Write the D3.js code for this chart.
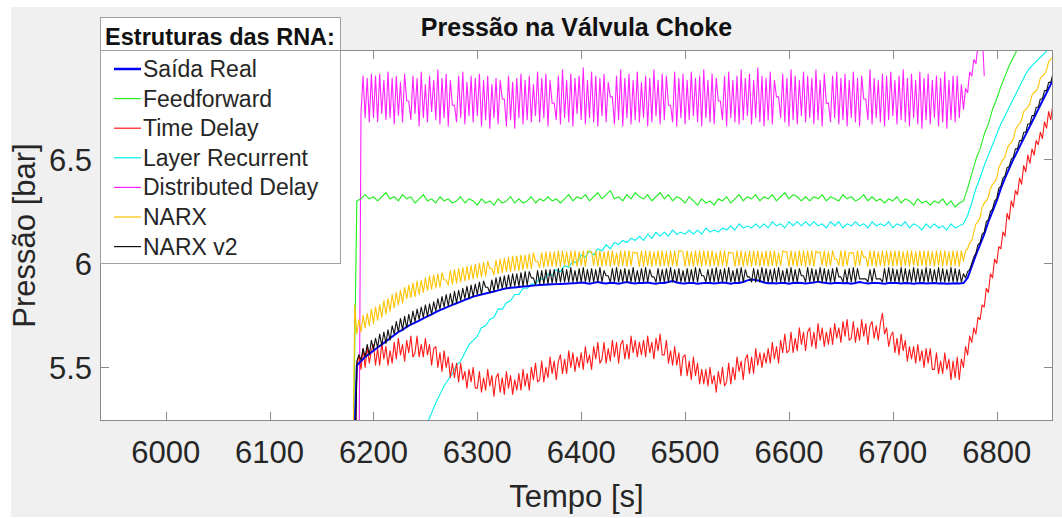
<!DOCTYPE html>
<html><head><meta charset="utf-8">
<script src="https://cdn.jsdelivr.net/npm/d3@7"></script>
<style>
body{margin:0;background:#fff}
svg{display:block}
text{font-family:"Liberation Sans",Arial,Helvetica,sans-serif}
</style>
</head><body>
<svg id="chart" width="1062" height="518"></svg>
<script>
// ---- data ----
const tStart = 6180;                       // first sample time [s]
const xLimits = [5936.75, 6854.2];
const yLimits = [5.242, 7.0255];
const xTicks = [6000, 6100, 6200, 6300, 6400, 6500, 6600, 6700, 6800];
const yTicks = [5.5, 6, 6.5];
const titleText = "Pressão na Válvula Choke";
const xLabel = "Tempo [s]";
const yLabel = "Pressão [bar]";
const legendTitle = "Estruturas das RNA:";
const seriesNames = ["Saída Real","Feedforward","Time Delay","Layer Recurrent","Distributed Delay","NARX","NARX v2"];
const seriesSteps = [4, 4, 2, 4, 2, 2, 2];   // sampling interval of each series [s]

// step 4 s
const saidaReal = [
4.90,5.51,5.53,5.55,5.565,5.58,5.595,5.61,5.625,5.64,
5.655,5.67,5.68,5.695,5.705,5.715,5.725,5.735,5.745,5.755,
5.765,5.775,5.783,5.792,5.80,5.808,5.816,5.824,5.832,5.84,
5.845,5.85,5.855,5.86,5.865,5.87,5.875,5.88,5.882,5.884,
5.886,5.888,5.89,5.892,5.894,5.896,5.897,5.898,5.899,5.90,
5.901,5.902,5.903,5.904,5.905,5.908,5.905,5.902,5.906,5.91,
5.905,5.903,5.907,5.905,5.902,5.906,5.91,5.905,5.903,5.906,
5.905,5.908,5.904,5.902,5.906,5.905,5.91,5.915,5.908,5.904,
5.903,5.906,5.905,5.902,5.904,5.906,5.905,5.903,5.905,5.908,
5.905,5.902,5.906,5.905,5.91,5.918,5.922,5.92,5.915,5.908,
5.904,5.905,5.903,5.906,5.905,5.902,5.905,5.907,5.905,5.903,
5.905,5.908,5.912,5.908,5.905,5.903,5.905,5.906,5.904,5.905,
5.902,5.905,5.91,5.906,5.903,5.905,5.906,5.904,5.902,5.905,
5.906,5.905,5.903,5.905,5.904,5.902,5.904,5.905,5.903,5.904,
5.905,5.903,5.904,5.902,5.903,5.904,5.903,5.905,5.93,5.985,
6.04,6.09,6.14,6.20,6.25,6.30,6.36,6.41,6.455,6.50,
6.54,6.58,6.62,6.66,6.70,6.74,6.78,6.82,6.86,6.90];

// step 4 s
const feedforward = [
4.90,6.30,6.31,6.33,6.31,6.32,6.30,6.32,6.34,6.31,
6.32,6.30,6.33,6.31,6.32,6.29,6.31,6.33,6.30,6.31,
6.29,6.32,6.30,6.31,6.29,6.30,6.32,6.29,6.31,6.30,
6.28,6.31,6.29,6.30,6.28,6.31,6.29,6.30,6.32,6.29,
6.31,6.29,6.30,6.32,6.29,6.31,6.30,6.32,6.30,6.31,
6.29,6.31,6.33,6.30,6.32,6.31,6.33,6.30,6.32,6.34,
6.31,6.33,6.35,6.31,6.32,6.30,6.33,6.31,6.34,6.32,
6.31,6.33,6.30,6.32,6.34,6.31,6.33,6.30,6.32,6.31,
6.29,6.32,6.30,6.28,6.31,6.29,6.30,6.28,6.31,6.30,
6.32,6.29,6.31,6.33,6.30,6.32,6.31,6.33,6.30,6.32,
6.31,6.33,6.30,6.32,6.34,6.31,6.33,6.32,6.30,6.32,
6.30,6.32,6.31,6.33,6.30,6.32,6.31,6.30,6.33,6.31,
6.32,6.30,6.31,6.33,6.30,6.32,6.30,6.31,6.29,6.31,
6.30,6.32,6.29,6.31,6.30,6.28,6.31,6.29,6.30,6.28,
6.30,6.29,6.31,6.28,6.30,6.27,6.29,6.30,6.36,6.43,
6.50,6.55,6.62,6.67,6.74,6.79,6.85,6.90,6.95,6.99,
7.03,7.08,7.12];

// step 2 s
const timeDelay = [
4.90,4.90,5.50,5.56,5.49,5.59,5.50,5.60,5.52,5.58,
5.61,5.51,5.59,5.51,5.62,5.54,5.60,5.51,5.58,5.52,
5.62,5.54,5.64,5.56,5.61,5.53,5.63,5.57,5.65,5.55,
5.57,5.65,5.55,5.61,5.55,5.64,5.56,5.61,5.51,5.59,
5.60,5.50,5.57,5.48,5.58,5.50,5.55,5.45,5.52,5.45,
5.52,5.43,5.52,5.44,5.48,5.40,5.49,5.43,5.50,5.40,
5.40,5.48,5.38,5.45,5.39,5.49,5.41,5.46,5.36,5.45,
5.47,5.38,5.45,5.37,5.48,5.40,5.46,5.37,5.44,5.39,
5.47,5.39,5.49,5.41,5.47,5.39,5.50,5.44,5.52,5.43,
5.44,5.53,5.43,5.50,5.45,5.55,5.47,5.53,5.44,5.53,
5.56,5.47,5.54,5.47,5.58,5.50,5.57,5.48,5.55,5.50,
5.57,5.49,5.60,5.52,5.56,5.49,5.60,5.54,5.62,5.52,
5.54,5.62,5.52,5.59,5.53,5.63,5.55,5.62,5.52,5.61,
5.63,5.54,5.61,5.54,5.65,5.57,5.63,5.55,5.62,5.56,
5.63,5.55,5.65,5.57,5.62,5.54,5.64,5.58,5.66,5.56,
5.56,5.63,5.52,5.58,5.51,5.60,5.51,5.57,5.46,5.55,
5.56,5.46,5.53,5.44,5.55,5.46,5.52,5.42,5.49,5.42,
5.49,5.41,5.50,5.42,5.46,5.38,5.48,5.42,5.50,5.41,
5.43,5.52,5.42,5.50,5.44,5.55,5.48,5.53,5.44,5.54,
5.56,5.47,5.55,5.47,5.59,5.51,5.57,5.50,5.57,5.52,
5.59,5.52,5.62,5.54,5.60,5.52,5.63,5.57,5.66,5.57,
5.58,5.67,5.57,5.64,5.58,5.69,5.61,5.67,5.58,5.67,
5.69,5.60,5.67,5.59,5.71,5.63,5.69,5.60,5.67,5.61,
5.69,5.61,5.71,5.64,5.69,5.62,5.72,5.65,5.73,5.63,
5.64,5.72,5.62,5.69,5.63,5.73,5.65,5.71,5.61,5.70,
5.72,5.64,5.70,5.63,5.71,5.76,5.66,5.69,5.60,5.65,
5.67,5.57,5.64,5.56,5.66,5.58,5.63,5.53,5.60,5.54,
5.60,5.52,5.61,5.53,5.58,5.50,5.59,5.52,5.59,5.49,
5.49,5.57,5.47,5.53,5.47,5.57,5.49,5.54,5.44,5.53,
5.45,5.55,5.44,5.54,5.50,5.60,5.56,5.65,5.62,5.69,
5.66,5.74,5.73,5.80,5.79,5.88,5.86,5.95,5.93,6.02,
6.00,6.08,6.07,6.15,6.13,6.24,6.21,6.30,6.27,6.35,
6.33,6.41,6.38,6.47,6.44,6.52,6.48,6.55,6.52,6.59,
6.57,6.63,6.60,6.68,6.65,6.73,6.69,6.76,6.74];

// step 4 s (null = not yet inside the plotted range)
const layerRecurrent = [
null,null,null,null,null,null,null,null,null,null,
null,null,null,null,null,null,5.15,5.19,5.235,5.28,
5.33,5.37,5.41,5.44,5.47,5.51,5.53,5.57,5.61,5.63,
5.65,5.69,5.70,5.73,5.74,5.78,5.78,5.81,5.82,5.85,
5.85,5.88,5.88,5.90,5.90,5.93,5.92,5.95,5.94,5.97,
5.96,5.99,5.98,6.01,6.00,6.04,6.03,6.06,6.04,6.07,
6.06,6.09,6.07,6.10,6.09,6.11,6.10,6.12,6.11,6.13,
6.11,6.14,6.12,6.15,6.13,6.15,6.13,6.16,6.14,6.15,
6.14,6.16,6.14,6.16,6.14,6.17,6.15,6.16,6.15,6.17,
6.16,6.18,6.16,6.19,6.17,6.18,6.17,6.19,6.17,6.19,
6.17,6.20,6.18,6.19,6.17,6.20,6.18,6.20,6.18,6.20,
6.18,6.20,6.18,6.19,6.17,6.20,6.18,6.20,6.17,6.19,
6.18,6.20,6.18,6.19,6.17,6.20,6.18,6.19,6.18,6.20,
6.17,6.19,6.18,6.20,6.17,6.19,6.18,6.16,6.19,6.17,
6.19,6.17,6.18,6.16,6.19,6.17,6.18,6.19,6.23,6.29,
6.36,6.41,6.47,6.52,6.57,6.62,6.67,6.71,6.75,6.79,
6.83,6.87,6.91,6.94,6.96,6.98,7.00,7.02,7.05,7.08];

// step 2 s
const distributedDelay = [
4.90,4.90,4.90,4.90,6.72,6.90,6.70,6.89,6.68,6.91,
6.70,6.90,6.68,6.91,6.72,6.88,6.69,6.92,6.70,6.89,
6.67,6.90,6.71,6.87,6.68,6.91,6.78,6.78,6.69,6.90,
6.72,6.89,6.66,6.92,6.70,6.86,6.68,6.90,6.73,6.88,
6.69,6.93,6.67,6.89,6.70,6.91,6.66,6.88,6.76,6.76,
6.68,6.90,6.70,6.92,6.67,6.87,6.71,6.90,6.68,6.89,
6.71,6.91,6.66,6.88,6.69,6.90,6.65,6.86,6.70,6.89,
6.67,6.88,6.79,6.79,6.66,6.90,6.69,6.87,6.65,6.89,
6.70,6.91,6.67,6.88,6.69,6.90,6.68,6.86,6.71,6.92,
6.68,6.89,6.70,6.91,6.66,6.88,6.77,6.77,6.69,6.90,
6.67,6.93,6.70,6.88,6.68,6.91,6.66,6.89,6.72,6.90,
6.69,6.94,6.67,6.88,6.70,6.92,6.68,6.90,6.66,6.89,
6.71,6.91,6.68,6.87,6.80,6.80,6.67,6.90,6.69,6.93,
6.66,6.89,6.70,6.91,6.67,6.88,6.69,6.92,6.68,6.87,
6.70,6.90,6.66,6.89,6.68,6.93,6.71,6.88,6.67,6.91,
6.69,6.90,6.76,6.76,6.68,6.92,6.66,6.89,6.70,6.91,
6.67,6.88,6.69,6.92,6.71,6.89,6.68,6.90,6.66,6.93,
6.70,6.88,6.68,6.91,6.67,6.89,6.78,6.78,6.69,6.90,
6.66,6.92,6.70,6.88,6.68,6.90,6.67,6.93,6.69,6.89,
6.71,6.91,6.67,6.88,6.70,6.94,6.68,6.90,6.66,6.89,
6.69,6.92,6.67,6.88,6.80,6.80,6.70,6.91,6.68,6.89,
6.66,6.93,6.69,6.90,6.67,6.88,6.71,6.92,6.68,6.90,
6.70,6.89,6.67,6.93,6.69,6.88,6.66,6.91,6.77,6.77,
6.68,6.90,6.70,6.92,6.67,6.89,6.69,6.91,6.66,6.88,
6.70,6.92,6.68,6.89,6.66,6.90,6.79,6.79,6.69,6.93,
6.67,6.89,6.70,6.88,6.68,6.91,6.66,6.90,6.69,6.92,
6.71,6.88,6.67,6.90,6.69,6.93,6.68,6.89,6.66,6.91,
6.70,6.88,6.67,6.92,6.65,6.89,6.69,6.91,6.67,6.88,
6.70,6.90,6.66,6.89,6.68,6.92,6.65,6.88,6.69,6.90,
6.68,6.90,6.70,6.86,6.74,6.84,6.82,6.92,6.90,6.98,
6.96,7.05,7.03,7.12,6.90];

// step 2 s
const narx = [
4.90,5.80,5.66,5.73,5.67,5.75,5.69,5.76,5.70,5.78,
5.71,5.79,5.725,5.80,5.74,5.82,5.755,5.83,5.77,5.85,
5.785,5.86,5.80,5.87,5.81,5.885,5.83,5.895,5.835,5.905,
5.84,5.915,5.85,5.92,5.86,5.93,5.87,5.94,5.875,5.945,
5.88,5.95,5.885,5.955,5.92,5.92,5.895,5.965,5.90,5.97,
5.905,5.975,5.91,5.98,5.915,5.985,5.92,5.99,5.925,5.995,
5.93,6.00,5.935,6.005,5.94,6.01,5.975,5.975,5.945,6.015,
5.95,6.02,5.955,6.025,5.96,6.03,5.96,6.035,5.965,6.035,
5.965,6.04,5.97,6.04,5.975,6.045,5.975,6.05,6.01,6.01,
5.98,6.05,5.98,6.055,5.985,6.055,5.985,6.055,5.985,6.06,
5.985,6.06,5.99,6.055,5.985,6.06,5.99,6.06,5.985,6.055,
5.99,6.06,5.985,6.06,6.055,6.055,5.99,6.06,5.985,6.06,
5.985,6.055,5.99,6.06,5.985,6.06,5.99,6.05,5.985,6.06,
5.99,6.06,5.985,6.06,5.99,6.055,6.05,6.05,5.985,6.06,
5.985,6.06,5.99,6.06,5.985,6.055,5.99,6.06,5.985,6.06,
5.99,6.055,5.985,6.06,5.99,6.06,5.985,6.06,6.06,6.055,
5.985,6.06,5.99,6.055,5.985,6.06,5.99,6.06,5.985,6.06,
5.99,6.06,5.985,6.06,5.99,6.05,5.985,6.06,5.99,6.06,
5.985,6.055,6.05,6.05,5.985,6.06,5.99,6.06,5.985,6.055,
5.99,6.06,5.985,6.06,5.99,6.06,5.985,6.055,5.99,6.06,
5.985,6.06,5.99,6.06,5.985,6.05,5.99,6.06,6.055,6.055,
5.985,6.06,5.99,6.055,5.985,6.06,5.99,6.06,5.985,6.06,
5.99,6.06,5.985,6.06,6.05,6.055,5.99,6.06,5.985,6.055,
5.99,6.06,6.02,6.02,5.99,6.06,5.985,6.06,5.99,6.05,
6.05,6.05,5.985,6.06,5.99,6.06,6.03,6.03,5.985,6.06,
5.99,6.06,5.985,6.055,5.99,6.06,5.985,6.06,5.99,6.06,
5.985,6.06,5.99,6.06,5.985,6.055,5.99,6.06,5.985,6.06,
5.99,6.055,5.985,6.06,5.99,6.06,5.985,6.06,5.99,6.055,
5.985,6.06,5.99,6.06,5.985,6.06,5.99,6.055,5.985,6.06,
5.99,6.06,5.985,6.06,6.01,6.06,6.07,6.10,6.11,6.15,
6.19,6.20,6.22,6.27,6.29,6.30,6.32,6.36,6.38,6.39,
6.41,6.46,6.48,6.50,6.51,6.55,6.57,6.58,6.60,6.64,
6.66,6.67,6.69,6.73,6.74,6.75,6.77,6.81,6.82,6.83,
6.85,6.89,6.90,6.91,6.93,6.97,6.98,6.99,7.01];

// step 2 s
const narxV2 = [
4.90,4.90,5.53,5.56,5.535,5.59,5.55,5.61,5.56,5.63,
5.585,5.64,5.595,5.66,5.605,5.67,5.615,5.68,5.63,5.70,
5.66,5.72,5.67,5.735,5.68,5.745,5.69,5.755,5.705,5.77,
5.72,5.78,5.73,5.79,5.74,5.80,5.745,5.805,5.755,5.815,
5.77,5.83,5.78,5.84,5.79,5.85,5.795,5.855,5.80,5.865,
5.81,5.87,5.82,5.88,5.83,5.89,5.83,5.895,5.84,5.90,
5.85,5.91,5.85,5.915,5.885,5.885,5.86,5.92,5.865,5.93,
5.875,5.935,5.88,5.94,5.88,5.945,5.885,5.95,5.89,5.95,
5.89,5.955,5.89,5.96,5.895,5.96,5.93,5.93,5.895,5.965,
5.90,5.965,5.90,5.97,5.90,5.97,5.905,5.97,5.905,5.975,
5.91,5.975,5.91,5.97,5.91,5.98,5.91,5.965,5.91,5.975,
5.91,5.98,5.91,5.97,5.91,5.975,5.91,5.97,5.91,5.98,
5.91,5.965,5.94,5.94,5.91,5.975,5.91,5.98,5.91,5.97,
5.91,5.975,5.91,5.97,5.91,5.98,5.91,5.965,5.91,5.975,
5.91,5.98,5.91,5.97,5.935,5.935,5.91,5.975,5.91,5.97,
5.91,5.975,5.91,5.98,5.91,5.97,5.91,5.975,5.91,5.965,
5.91,5.975,5.91,5.97,5.91,5.98,5.91,5.975,5.94,5.94,
5.91,5.97,5.91,5.975,5.91,5.98,5.91,5.97,5.91,5.975,
5.91,5.98,5.91,5.965,5.91,5.975,5.91,5.98,5.91,5.97,
5.935,5.935,5.91,5.975,5.91,5.97,5.91,5.98,5.91,5.975,
5.91,5.97,5.91,5.975,5.91,5.98,5.91,5.965,5.91,5.975,
5.91,5.98,5.91,5.97,5.91,5.975,5.94,5.94,5.91,5.98,
5.91,5.975,5.91,5.97,5.91,5.98,5.91,5.975,5.91,5.97,
5.91,5.975,5.91,5.98,5.935,5.935,5.91,5.97,5.91,5.975,
5.91,5.98,5.91,5.975,5.925,5.925,5.925,5.925,5.91,5.97,
5.91,5.975,5.925,5.925,5.925,5.91,5.975,5.91,5.98,5.91,
5.975,5.91,5.97,5.91,5.98,5.91,5.975,5.91,5.97,5.91,
5.98,5.91,5.975,5.91,5.97,5.91,5.98,5.91,5.975,5.91,
5.97,5.91,5.98,5.91,5.975,5.91,5.97,5.91,5.98,5.91,
5.975,5.91,5.97,5.91,5.95,5.93,5.96,5.97,6.00,6.03,
6.05,6.09,6.10,6.14,6.15,6.20,6.21,6.25,6.26,6.30,
6.31,6.36,6.37,6.41,6.42,6.46,6.465,6.50,6.51,6.55,
6.55,6.59,6.59,6.63,6.63,6.67,6.67,6.71,6.71,6.75,
6.75,6.79,6.79,6.83,6.83,6.87,6.87,6.91,6.93];

const seriesValues = [saidaReal, feedforward, timeDelay, layerRecurrent, distributedDelay, narx, narxV2];
const seriesColors = ["#0000ff","#22ee22","#ff1a1a","#00eeee","#ff22ff","#ffc400","#111111"];
const seriesWidths = [2, 1.1, 1.1, 1.1, 1.1, 1.1, 1.1];
const drawOrder = [4, 1, 3, 2, 5, 0, 6];

// ---- layout ----
const W = 1062, H = 518;
const plot = {left: 100, right: 1053, top: 50, bottom: 421};
const svg = d3.select("#chart");

svg.append("rect").attr("x",0).attr("y",0).attr("width",W).attr("height",H).attr("fill","#ffffff");
svg.append("rect").attr("x",11).attr("y",7).attr("width",W-11).attr("height",510).attr("fill","#f0f0f0");
svg.append("rect").attr("x",plot.left).attr("y",plot.top)
  .attr("width",plot.right-plot.left).attr("height",plot.bottom-plot.top).attr("fill","#ffffff");

const x = d3.scaleLinear().domain(xLimits).range([plot.left, plot.right]);
const y = d3.scaleLinear().domain(yLimits).range([plot.bottom, plot.top]);

svg.append("clipPath").attr("id","clip").append("rect")
  .attr("x",plot.left).attr("y",plot.top)
  .attr("width",plot.right-plot.left).attr("height",plot.bottom-plot.top);

const line = d3.line()
  .defined(d => d.v !== null)
  .x(d => x(d.t)).y(d => y(d.v));

const gLines = svg.append("g").attr("clip-path","url(#clip)");
drawOrder.forEach(k => {
  const step = seriesSteps[k];
  const data = seriesValues[k].map((v,i) => ({t: tStart + i*step, v}));
  gLines.append("path").datum(data)
    .attr("fill","none")
    .attr("stroke",seriesColors[k])
    .attr("stroke-width",seriesWidths[k])
    .attr("stroke-linejoin","round")
    .attr("d",line);
});

// axes (box with inward ticks)
const axisColor = "#8a8a8a";
const tickLen = 9;
const gAx = svg.append("g");
gAx.append("rect").attr("x",plot.left+0.5).attr("y",plot.top+0.5)
  .attr("width",plot.right-plot.left-1).attr("height",plot.bottom-plot.top-1)
  .attr("fill","none").attr("stroke",axisColor).attr("stroke-width",1);

xTicks.forEach(t => {
  const px = Math.round(x(t)) + 0.5;
  gAx.append("line").attr("x1",px).attr("x2",px).attr("y1",plot.bottom).attr("y2",plot.bottom-tickLen).attr("stroke",axisColor);
  gAx.append("line").attr("x1",px).attr("x2",px).attr("y1",plot.top).attr("y2",plot.top+tickLen).attr("stroke",axisColor);
  gAx.append("text").attr("x",x(t)).attr("y",463).attr("text-anchor","middle")
    .attr("font-size",31).attr("fill","#262626").text(d3.format("d")(t));
});
yTicks.forEach(v => {
  const py = Math.round(y(v)) + 0.5;
  gAx.append("line").attr("x1",plot.left).attr("x2",plot.left+tickLen).attr("y1",py).attr("y2",py).attr("stroke",axisColor);
  gAx.append("line").attr("x1",plot.right).attr("x2",plot.right-tickLen).attr("y1",py).attr("y2",py).attr("stroke",axisColor);
  gAx.append("text").attr("x",92).attr("y",y(v)+12).attr("text-anchor","end")
    .attr("font-size",31).attr("fill","#262626").text(String(v));
});

svg.append("text").attr("x",(plot.left+plot.right)/2).attr("y",507).attr("text-anchor","middle")
  .attr("font-size",31).attr("fill","#262626").text(xLabel);
svg.append("text").attr("transform",`translate(35,${(plot.top+plot.bottom)/2}) rotate(-90)`)
  .attr("text-anchor","middle").attr("font-size",31).attr("fill","#262626").text(yLabel);
svg.append("text").attr("x",(plot.left+plot.right)/2).attr("y",36).attr("text-anchor","middle")
  .attr("font-size",25).attr("font-weight","bold").attr("fill","#111").text(titleText);

// legend
const lg = {x: 100, y: 17, w: 240, h: 246};
const gL = svg.append("g");
gL.append("rect").attr("x",lg.x+0.5).attr("y",lg.y+0.5).attr("width",lg.w).attr("height",lg.h)
  .attr("fill","#ffffff").attr("stroke","#a0a0a0");
gL.append("line").attr("x1",lg.x).attr("x2",lg.x+lg.w).attr("y1",50.5).attr("y2",50.5).attr("stroke","#a0a0a0");
gL.append("text").attr("x",lg.x+lg.w/2).attr("y",45).attr("text-anchor","middle")
  .attr("font-size",23.5).attr("font-weight","bold").attr("fill","#111").text(legendTitle);
seriesNames.forEach((name,k) => {
  const cy = 69 + k*29.6;
  gL.append("line").attr("x1",114).attr("x2",141).attr("y1",cy).attr("y2",cy)
    .attr("stroke",seriesColors[k]).attr("stroke-width",k===0?2.5:1.2);
  gL.append("text").attr("x",143).attr("y",cy+8).attr("font-size",23)
    .attr("fill","#262626").text(name);
});
</script>
</body></html>
